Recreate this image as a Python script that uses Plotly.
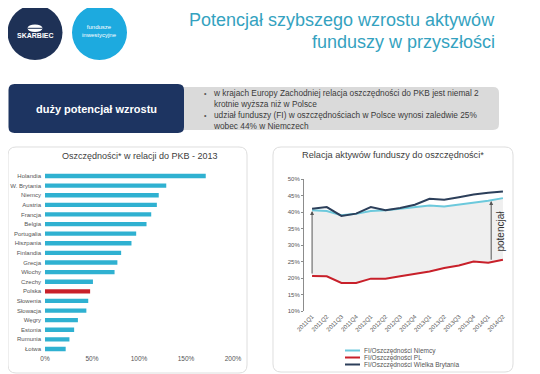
import plotly.graph_objects as go

# page body has an 8px margin in the browser; the figure fills the rest of the window
OFF = 8
W, H = 540 - OFF, 374 - OFF

# ---------------- data ----------------
countries = ["Holandia", "W. Brytania", "Niemcy", "Austria", "Francja", "Belgia",
             "Portugalia", "Hiszpania", "Finlandia", "Grecja", "Włochy", "Czechy",
             "Polska", "Słowenia", "Słowacja", "Węgry", "Estonia", "Rumunia", "Łotwa"]
savings_gdp = [171, 129, 121, 119, 113, 108, 97, 92, 81, 77, 74, 51,
               48, 46, 44, 35, 31, 26, 22]
bar_ticks = [0, 50, 100, 150, 200]
bar_ticktext = ["0%", "50%", "100%", "150%", "200%"]

quarters = ["2011Q1", "2011Q2", "2011Q3", "2011Q4", "2012Q1", "2012Q2", "2012Q3",
            "2012Q4", "2013Q1", "2013Q2", "2013Q3", "2013Q4", "2014Q1", "2014Q2"]
fi_de = [40.5, 40.3, 39.0, 39.5, 40.3, 40.5, 41.0, 41.5, 42.0, 41.7, 42.3, 42.7, 43.4, 44.2]
fi_pl = [20.6, 20.5, 18.5, 18.5, 19.8, 19.8, 20.5, 21.2, 22.0, 23.0, 23.8, 25.0, 24.6, 25.5]
fi_uk = [41.0, 41.5, 38.8, 39.5, 41.5, 40.5, 41.2, 42.2, 44.0, 43.7, 44.5, 45.3, 45.8, 46.2]
line_yticks = [10, 15, 20, 25, 30, 35, 40, 45, 50]
series_names = ["FI/Oszczędności Niemcy", "FI/Oszczędności PL", "FI/Oszczędności Wielka Brytania"]

bullet_lines = [
    ["w krajach Europy Zachodniej relacja oszczędności do PKB jest niemal 2",
     "krotnie wyższa niż w Polsce"],
    ["udział funduszy (FI) w oszczędnościach w Polsce wynosi zaledwie 25%",
     "wobec 44% w Niemczech"],
]

# ---------------- helpers ----------------
def fx(px):
    return (px - OFF) / W

def fy(py):
    return 1 - (py - OFF) / H

def rrect(x0, y0, x1, y1, r):
    def P(x, y):
        return f"{fx(x):.5f},{fy(y):.5f}"
    return (f"M{P(x0+r,y0)} L{P(x1-r,y0)} Q{P(x1,y0)} {P(x1,y0+r)} "
            f"L{P(x1,y1-r)} Q{P(x1,y1)} {P(x1-r,y1)} L{P(x0+r,y1)} "
            f"Q{P(x0,y1)} {P(x0,y1-r)} L{P(x0,y0+r)} Q{P(x0,y0)} {P(x0+r,y0)} Z")

def txt(x, y, text, size, color, xanchor="center", yanchor="middle", align="center", **kw):
    d = dict(x=fx(x), y=fy(y), xref="paper", yref="paper", text=text, showarrow=False,
             xanchor=xanchor, yanchor=yanchor, align=align, borderpad=0,
             font=dict(family=FONT, size=size, color=color))
    d.update(kw)
    return d

FONT = "Arial, Liberation Sans, sans-serif"
BAR_C = "#2fb1d1"
PL_C = "#c8202a"
DE_C = "#6cc9dc"
UK_C = "#2c3f5a"
series_colors = [DE_C, PL_C, UK_C]

fig = go.Figure()

# ---------------- bar chart ----------------
bar_colors = [PL_C if c == "Polska" else BAR_C for c in countries]
fig.add_trace(go.Bar(
    y=countries, x=savings_gdp, orientation="h",
    marker=dict(color=bar_colors, line=dict(width=0)),
    xaxis="x", yaxis="y", showlegend=False, hoverinfo="x+y"))

# ---------------- line chart ----------------
xi = list(range(len(quarters)))
fig.add_trace(go.Scatter(x=xi, y=fi_de, mode="lines", line=dict(width=0),
                         xaxis="x2", yaxis="y2", showlegend=False, hoverinfo="skip"))
fig.add_trace(go.Scatter(x=xi, y=fi_pl, mode="lines", line=dict(width=0),
                         fill="tonexty", fillcolor="rgba(236,236,236,0.85)",
                         xaxis="x2", yaxis="y2", showlegend=False, hoverinfo="skip"))

for name, vals, col in zip(series_names, [fi_de, fi_pl, fi_uk], series_colors):
    fig.add_trace(go.Scatter(x=xi, y=vals, mode="lines", name=name,
                             line=dict(color=col, width=2), xaxis="x2", yaxis="y2",
                             showlegend=False))

def interp(arr, x):
    i = int(x)
    t = x - i
    if i >= len(arr) - 1:
        return arr[-1]
    return arr[i] * (1 - t) + arr[i + 1] * t

annotations = []
for ax_x in [0, 12.2]:
    annotations.append(dict(
        x=ax_x, y=interp(fi_de, ax_x) - 0.2, ax=ax_x, ay=interp(fi_pl, ax_x) + 0.3,
        xref="x2", yref="y2", axref="x2", ayref="y2", text="", showarrow=True,
        arrowhead=2, arrowsize=0.8, arrowwidth=1, arrowcolor="#555555"))
annotations.append(dict(
    x=12.85, y=34.3, xref="x2", yref="y2", text="potencjał", showarrow=False,
    xanchor="center", yanchor="middle",
    textangle=-90, font=dict(family=FONT, size=10, color="#333333")))

# ---------------- decorations ----------------
shapes = []
shapes.append(dict(type="path", path=rrect(8, 147, 247, 373, 8), xref="paper", yref="paper",
                   line=dict(color="#dedede", width=1), fillcolor="white", layer="below"))
shapes.append(dict(type="path", path=rrect(273, 147, 513, 372, 8), xref="paper", yref="paper",
                   line=dict(color="#dedede", width=1), fillcolor="white", layer="below"))
shapes.append(dict(type="path", path=rrect(175, 87, 499, 130, 6), xref="paper", yref="paper",
                   line=dict(width=0), fillcolor="#dadada", layer="below"))
shapes.append(dict(type="path", path=rrect(8.5, 84, 184, 133, 6), xref="paper", yref="paper",
                   line=dict(width=0), fillcolor="#1d3461", layer="below"))
shapes.append(dict(type="circle", xref="paper", yref="paper", x0=fx(7.5), x1=fx(62.5),
                   y0=fy(60), y1=fy(5), fillcolor="#1e3156", line=dict(width=0)))
shapes.append(dict(type="circle", xref="paper", yref="paper", x0=fx(72), x1=fx(127),
                   y0=fy(60), y1=fy(5), fillcolor="#1daadf", line=dict(width=0)))
shapes.append(dict(type="circle", xref="paper", yref="paper", x0=fx(27.5), x1=fx(42.5),
                   y0=fy(32), y1=fy(24.5), fillcolor="white", line=dict(width=0)))
shapes.append(dict(type="line", xref="paper", yref="paper", x0=fx(27.5), x1=fx(42.5),
                   y0=fy(28.3), y1=fy(28.3), line=dict(color="#1e3156", width=1)))

# legend (drawn manually to match compact spacing)
leg_y = [350.5, 357.5, 364.5]
for name, col, yy in zip(series_names, series_colors, leg_y):
    shapes.append(dict(type="line", xref="paper", yref="paper", x0=fx(345), x1=fx(360),
                       y0=fy(yy), y1=fy(yy), line=dict(color=col, width=2)))
    annotations.append(txt(363, yy, name, 6.5, "#555555", xanchor="left", align="left"))

# bullets
block_centres = [98.5, 120.3]
bullet_rows = [93.5, 115.3]
for lines, yc, yb in zip(bullet_lines, block_centres, bullet_rows):
    annotations.append(txt(203, yb, "•", 7, "#555555", xanchor="left"))
    annotations.append(txt(212, yc, "<br>".join(lines), 8.3, "#3a3a3a",
                           xanchor="left", align="left"))

annotations += [
    txt(35, 36, "<b>SKARBIEC</b>", 7, "white"),
    txt(99.5, 31, "fundusze<br>inwestycyjne", 6, "white"),
    txt(496, 20, "Potencjał szybszego wzrostu aktywów", 18, "#34a2c0", xanchor="right"),
    txt(496, 42, "funduszy w przyszłości", 18, "#34a2c0", xanchor="right"),
    txt(96, 108.5, "<b>duży potencjał wzrostu</b>", 11, "white"),
    txt(140, 156, "Oszczędności* w relacji do PKB - 2013", 9, "#404040"),
    txt(393, 155, "Relacja aktywów funduszy do oszczędności*", 9.2, "#404040"),
]

fig.update_layout(
    width=W, height=H, autosize=False,
    margin=dict(l=0, r=0, t=0, b=0, autoexpand=False),
    paper_bgcolor="white", plot_bgcolor="rgba(0,0,0,0)",
    font=dict(family=FONT, color="#555555"),
    bargap=0.55,
    showlegend=False,
    xaxis=dict(domain=[fx(45), fx(233)], range=[0, 200], tickvals=bar_ticks,
               ticktext=bar_ticktext, showgrid=False, zeroline=False, showline=False,
               tickfont=dict(size=6.5, color="#555555"), anchor="y", fixedrange=True,
               automargin=False),
    yaxis=dict(domain=[fy(353.8), fy(171.2)], autorange="reversed", showgrid=False,
               tickfont=dict(size=6, color="#555555"), anchor="x", fixedrange=True,
               ticks="", ticklabelstandoff=3, automargin=False),
    xaxis2=dict(domain=[fx(304), fx(511)], range=[-0.55, 13.55], tickvals=xi,
                ticktext=quarters, tickangle=-45, showgrid=False, zeroline=False,
                showline=False, tickfont=dict(size=6, color="#555555"), anchor="y2",
                fixedrange=True, automargin=False),
    yaxis2=dict(domain=[fy(311), fy(179)], range=[10, 50], tickvals=line_yticks,
                ticktext=[f"{v}%" for v in line_yticks], showgrid=False, zeroline=False,
                showline=True, linecolor="#8c8c8c", linewidth=1, ticks="outside",
                ticklen=2, tickcolor="#8c8c8c", tickfont=dict(size=6, color="#555555"),
                anchor="x2", fixedrange=True, automargin=False),
    shapes=shapes,
    annotations=annotations,
)

fig.write_html("out.html")
